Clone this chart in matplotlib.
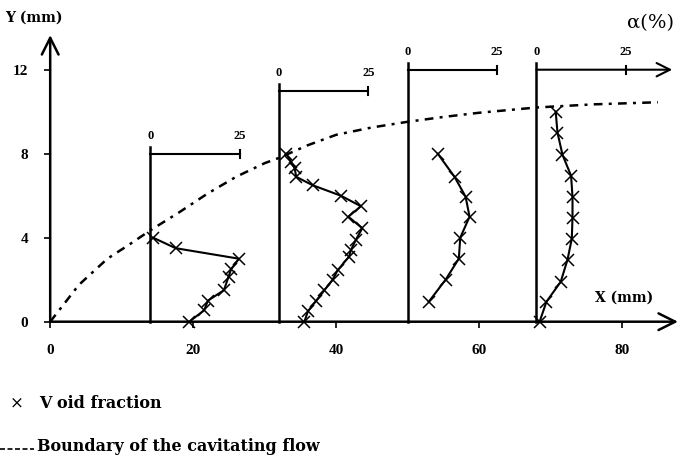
import matplotlib
matplotlib.use("Agg")
import matplotlib.pyplot as plt
import numpy as np

# ---------------- data ----------------
x_ticks = [0, 20, 40, 60, 80]
y_ticks = [0, 4, 8, 12]

baselines = [14, 32, 50, 68]          # X position (mm) of each profile
bar_heights = [8, 11, 12, 12]         # Y (mm) of each alpha scale bar
alpha_scale_ticks = [0, 25]           # alpha (%) labels on each scale bar
alpha_to_mm = 0.5                     # 25 % = 12.5 mm on the X axis

prof1_y = [4.0, 3.5, 3.0, 2.5, 2.15, 1.5, 1.0, 0.55, 0.0]
prof1_a = [0.8, 7.1, 24.8, 22.6, 21.9, 20.6, 16.1, 15.1, 10.9]

prof2_y = [8.0, 7.6, 7.3, 6.9, 6.5, 6.0, 5.5, 5.0, 4.45, 3.9, 3.4, 3.1,
           2.45, 2.0, 1.5, 1.0, 0.5, 0.0]
prof2_a = [2.0, 3.4, 4.4, 4.8, 9.4, 17.3, 22.9, 19.4, 23.3, 21.5, 20.1, 19.6,
           16.4, 15.0, 12.7, 10.4, 8.1, 7.1]

prof3_y = [8.0, 6.9, 5.95, 5.0, 4.0, 3.0, 2.0, 0.95]
prof3_a = [8.4, 13.1, 16.2, 17.3, 14.7, 14.3, 10.6, 5.9]

prof4_y = [10.0, 9.0, 7.95, 6.95, 5.95, 4.95, 3.95, 2.95, 1.9, 0.95, 0.0]
prof4_a = [5.4, 5.9, 7.3, 9.7, 10.1, 10.1, 9.9, 8.7, 6.8, 2.8, 0.9]

profiles_y = [prof1_y, prof2_y, prof3_y, prof4_y]
profiles_a = [prof1_a, prof2_a, prof3_a, prof4_a]

boundary_x = [0, 4, 8, 11, 14, 18, 22, 26, 30, 32, 36, 40, 45, 50, 55, 60, 68, 76, 85]
boundary_y = [0, 1.75, 3.0, 3.66, 4.35, 5.2, 6.1, 6.9, 7.55, 7.8, 8.4, 8.9, 9.25,
              9.52, 9.75, 9.95, 10.2, 10.35, 10.45]

# ---------------- figure ----------------
W, H = 679, 463
fig = plt.figure(figsize=(W / 100, H / 100), dpi=100)
ax = fig.add_axes([0, 0, 1, 1])

x0_px, px_per_mm_x = 50.2, 7.15
y0_px, px_per_mm_y = 321.7, 21.0
ax.set_xlim(-x0_px / px_per_mm_x, (W - x0_px) / px_per_mm_x)
ax.set_ylim((y0_px - H) / px_per_mm_y, y0_px / px_per_mm_y)

serif = ["DejaVu Serif"]
lserif = ["Liberation Serif", "DejaVu Serif"]
for s in ["top", "right", "left", "bottom"]:
    ax.spines[s].set_visible(False)
ax.spines["left"].set_position(("data", 0))
ax.spines["bottom"].set_position(("data", 0))
ax.set_xticks(x_ticks)
ax.set_yticks(y_ticks)
ax.tick_params(axis="both", direction="out", length=4, width=1.2, pad=12,
               labelsize=11)
ax.set_xticklabels([str(v) for v in x_ticks], fontfamily=lserif, fontweight="bold")
ax.set_yticklabels([str(v) for v in y_ticks], fontfamily=lserif, fontweight="bold")

lw_axis = 1.8
ax.annotate("", xy=(0, 13.65), xytext=(0, 0),
            arrowprops=dict(arrowstyle="->", lw=lw_axis, mutation_scale=30,
                            color="black", shrinkA=0, shrinkB=0))
ax.annotate("", xy=(87.8, 0), xytext=(0, 0),
            arrowprops=dict(arrowstyle="->", lw=lw_axis, mutation_scale=30,
                            color="black", shrinkA=0, shrinkB=0))

# boundary of the cavitating flow
ax.plot(boundary_x, boundary_y, color="black", lw=1.8,
        linestyle=(0, (3.5, 2.5, 1.2, 2.5)))

tick_half = 4 / px_per_mm_y
for i, (xb, hb) in enumerate(zip(baselines, bar_heights)):
    ax.plot([xb, xb], [0, hb + 0.3], color="black", lw=1.8)
    x25 = xb + alpha_scale_ticks[1] * alpha_to_mm
    if i < len(baselines) - 1:
        ax.plot([xb, x25], [hb, hb], color="black", lw=1.5)
    else:
        ax.annotate("", xy=(87.0, hb), xytext=(xb, hb),
                    arrowprops=dict(arrowstyle="->", lw=1.5, mutation_scale=24,
                                    color="black", shrinkA=0, shrinkB=0))
    ax.plot([x25, x25], [hb - tick_half, hb + tick_half], color="black", lw=1.5)
    for v in alpha_scale_ticks:
        ax.text(xb + v * alpha_to_mm, hb + 0.55, str(v), ha="center", va="bottom",
                fontsize=9, fontweight="bold", fontfamily=lserif)
    xs = [xb + a * alpha_to_mm for a in profiles_a[i]]
    ax.plot(xs, profiles_y[i], color="black", lw=1.5, marker="x",
            markersize=8, markeredgewidth=1.1)

# labels
ax.text(-6.3, 14.5, "Y (mm)", fontsize=10, fontweight="bold",
        fontfamily=serif, ha="left", va="center")
ax.text(84.0, 14.2, "α(%)", fontsize=14, fontfamily=serif,
        ha="center", va="center")
ax.text(80.2, 1.15, "X (mm)", fontsize=10, fontweight="bold",
        fontfamily=serif, ha="center", va="center")

# legend (as text)
ly1 = (y0_px - 403) / px_per_mm_y
ly2 = (y0_px - 447) / px_per_mm_y
ax.text(-4.7, ly1, "×", fontsize=12, fontfamily=serif, ha="center", va="center")
ax.text(-1.5, ly1, "V oid fraction", fontsize=11.5,
        fontweight="bold", fontfamily=serif, ha="left", va="center")
ax.plot([-7.0, -2.2], [ly2 - 0.1] * 2, color="black", lw=1.2,
        linestyle=(0, (3, 1.5)))
ax.text(-1.8, ly2, "Boundary of the cavitating flow",
        fontsize=11.5, fontweight="bold", fontfamily=serif, ha="left", va="center")

fig.savefig("out.png", dpi=100)
